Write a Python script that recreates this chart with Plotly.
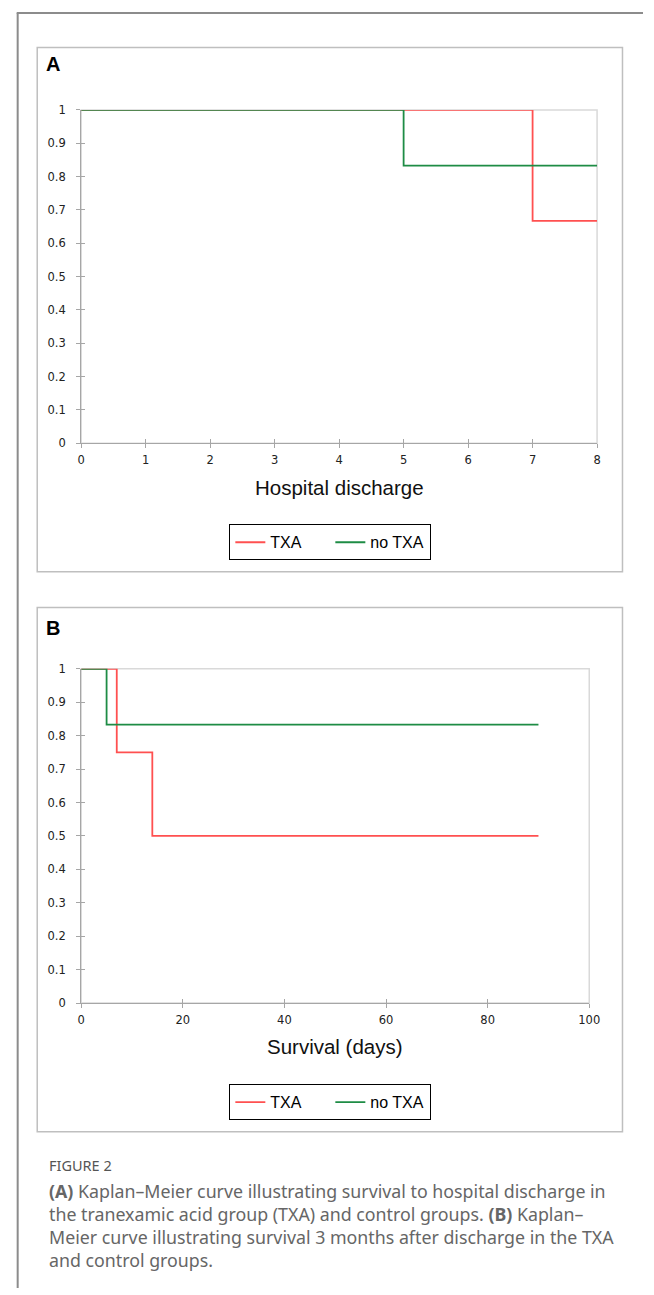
import plotly.graph_objects as go

W, H = 654, 1295

# ---- Data ----
# Panel A: survival to hospital discharge
a_txa_t = [0, 7, 8]
a_txa_s = [1, 0.667, 0.667]
a_ctl_t = [0, 5, 8]
a_ctl_s = [1, 0.833, 0.833]
a_xticks = [0, 1, 2, 3, 4, 5, 6, 7, 8]

# Panel B: survival (days)
b_txa_t = [0, 7, 14, 90]
b_txa_s = [1, 0.75, 0.5, 0.5]
b_ctl_t = [0, 5, 90]
b_ctl_s = [1, 0.833, 0.833]
b_xticks = [0, 20, 40, 60, 80, 100]

y_ticks = [0, 0.1, 0.2, 0.3, 0.4, 0.5, 0.6, 0.7, 0.8, 0.9, 1]
y_ticklabels = ["0", "0.1", "0.2", "0.3", "0.4", "0.5", "0.6", "0.7", "0.8", "0.9", "1"]

RED = "#FF5050"
GREEN = "#1E8C45"
AXC = "#A6A6A6"
BORDER = "#D9D9D9"
TICKFONT = dict(family="DejaVu Sans", size=11.5, color="#222")


def px_x(p):
    return p / W


def px_y(p):
    return 1 - p / H


fig = go.Figure()

# Panel A traces
fig.add_trace(go.Scatter(x=a_txa_t, y=a_txa_s, mode="lines", line=dict(color=RED, width=1.8, shape="hv"),
                         name="TXA", xaxis="x", yaxis="y", legend="legend"))
fig.add_trace(go.Scatter(x=a_ctl_t, y=a_ctl_s, mode="lines", line=dict(color=GREEN, width=1.8, shape="hv"),
                         name="no TXA", xaxis="x", yaxis="y", legend="legend"))
# Panel B traces
fig.add_trace(go.Scatter(x=b_txa_t, y=b_txa_s, mode="lines", line=dict(color=RED, width=1.8, shape="hv"),
                         name="TXA", xaxis="x2", yaxis="y2", legend="legend2"))
fig.add_trace(go.Scatter(x=b_ctl_t, y=b_ctl_s, mode="lines", line=dict(color=GREEN, width=1.8, shape="hv"),
                         name="no TXA", xaxis="x2", yaxis="y2", legend="legend2"))
# invisible traces for inner-tick overlay axes
fig.add_trace(go.Scatter(x=[None], y=[None], xaxis="x3", yaxis="y3", showlegend=False, hoverinfo="skip"))
fig.add_trace(go.Scatter(x=[None], y=[None], xaxis="x4", yaxis="y4", showlegend=False, hoverinfo="skip"))

domA_x = [px_x(79), px_x(607)]
domA_y = [px_y(441), px_y(104)]
domB_x = [px_x(79), px_x(599)]
domB_y = [px_y(1007), px_y(669)]


def xax(dom, rng, ticks, anchor, outside=True, labels=True, overlay=None):
    d = dict(domain=dom, range=rng, tickmode="array", tickvals=ticks,
             ticktext=[str(t) for t in ticks], showgrid=False, zeroline=False,
             showline=outside, linecolor=AXC, linewidth=1.2,
             ticks="outside" if outside else "inside", ticklen=4, tickcolor=AXC, tickwidth=1.2,
             showticklabels=labels, tickfont=TICKFONT, anchor=anchor, fixedrange=True)
    if labels:
        d["ticklabelstandoff"] = 2
    if overlay:
        d["overlaying"] = overlay
    return d


def yax(dom, anchor, outside=True, labels=True, overlay=None):
    d = dict(domain=dom, range=[0, 1], tickmode="array", tickvals=y_ticks, ticktext=y_ticklabels,
             showgrid=False, zeroline=False, showline=outside, linecolor=AXC, linewidth=1.2,
             ticks="outside" if outside else "inside", ticklen=4, tickcolor=AXC, tickwidth=1.2,
             showticklabels=labels, tickfont=TICKFONT, anchor=anchor, fixedrange=True)
    if labels:
        d["ticklabelstandoff"] = 8
    if overlay:
        d["overlaying"] = overlay
    return d


shapes = []
# outer figure frame (left and top)
shapes.append(dict(type="line", xref="paper", yref="paper", x0=px_x(14), x1=px_x(14),
                   y0=px_y(1295), y1=px_y(6), line=dict(color="#8C8C8C", width=2)))
shapes.append(dict(type="line", xref="paper", yref="paper", x0=px_x(13), x1=1.0,
                   y0=px_y(6), y1=px_y(6), line=dict(color="#8C8C8C", width=2)))
# panel boxes
for top, bot in [(41, 571), (607, 1137)]:
    shapes.append(dict(type="rect", xref="paper", yref="paper", x0=px_x(34), x1=px_x(633),
                       y0=px_y(bot), y1=px_y(top), line=dict(color="#BFBFBF", width=1.5),
                       layer="below"))
# plot-area borders (light)
for xr, yr in [("x domain", "y domain"), ("x2 domain", "y2 domain")]:
    shapes.append(dict(type="rect", xref=xr, yref=yr, x0=0, x1=1, y0=0, y1=1,
                       line=dict(color=BORDER, width=1.5), layer="below"))

annotations = [
    dict(text="<b>A</b>", x=px_x(41), y=px_y(58), xref="paper", yref="paper", xanchor="left",
         yanchor="middle", showarrow=False, font=dict(family="Liberation Sans", size=20, color="#000")),
    dict(text="<b>B</b>", x=px_x(41), y=px_y(628), xref="paper", yref="paper", xanchor="left",
         yanchor="middle", showarrow=False, font=dict(family="Liberation Sans", size=20, color="#000")),
    dict(text="Hospital discharge", x=px_x(343), y=px_y(486), xref="paper", yref="paper",
         xanchor="center", yanchor="middle", showarrow=False,
         font=dict(family="Liberation Sans", size=20.5, color="#111")),
    dict(text="Survival (days)", x=px_x(339), y=px_y(1051), xref="paper", yref="paper",
         xanchor="center", yanchor="middle", showarrow=False,
         font=dict(family="Liberation Sans", size=20.5, color="#111")),
    dict(text="FIGURE 2", x=px_x(44), y=px_y(1171), xref="paper", yref="paper",
         xanchor="left", yanchor="middle", showarrow=False,
         font=dict(family="Noto Sans", size=14.5, color="#555")),
    dict(text="<b>(A)</b> Kaplan\u2013Meier curve illustrating survival to hospital discharge in<br>"
              "the tranexamic acid group (TXA) and control groups. <b>(B)</b> Kaplan\u2013<br>"
              "Meier curve illustrating survival 3 months after discharge in the TXA<br>"
              "and control groups.",
         x=px_x(44), y=px_y(1183), xref="paper", yref="paper", xanchor="left", yanchor="top",
         align="left", showarrow=False,
         font=dict(family="Noto Sans", size=17.8, color="#666")),
]

legend_common = dict(orientation="h", bgcolor="white", bordercolor="#000", borderwidth=1,
                     font=dict(family="Liberation Sans", size=16, color="#000"),
                     xanchor="center", yanchor="top", itemwidth=30, traceorder="normal",
                     entrywidth=55, entrywidthmode="pixels")

fig.update_layout(
    width=W, height=H, margin=dict(l=0, r=0, t=0, b=0),
    paper_bgcolor="white", plot_bgcolor="white",
    xaxis=xax(domA_x, [0, 8], a_xticks, "y"),
    yaxis=yax(domA_y, "x"),
    xaxis2=xax(domB_x, [0, 100], b_xticks, "y2"),
    yaxis2=yax(domB_y, "x2"),
    xaxis3=xax(domA_x, [0, 8], a_xticks, "y3", outside=False, labels=False, overlay="x"),
    yaxis3=yax(domA_y, "x3", outside=False, labels=False, overlay="y"),
    xaxis4=xax(domB_x, [0, 100], b_xticks, "y4", outside=False, labels=False, overlay="x2"),
    yaxis4=yax(domB_y, "x4", outside=False, labels=False, overlay="y2"),
    legend=dict(x=px_x(334), y=px_y(523), **legend_common),
    legend2=dict(x=px_x(334), y=px_y(1089), **legend_common),
    shapes=shapes,
    annotations=annotations,
    showlegend=True,
)

fig.write_html("out.html", config={"displayModeBar": False},
               post_script="document.body.style.margin='0';document.body.style.overflow='hidden';")
